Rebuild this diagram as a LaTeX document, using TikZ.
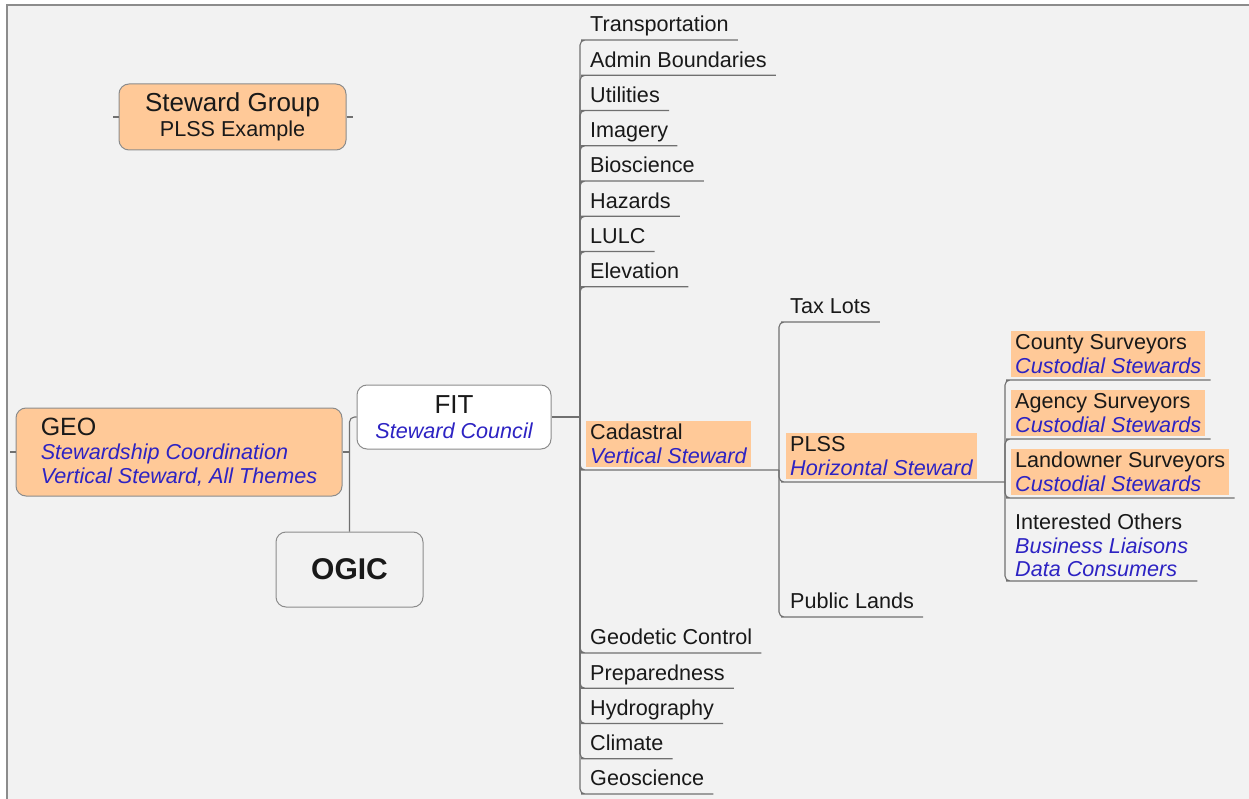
\documentclass[tikz,border=0pt]{standalone}
\usepackage{fontspec}
\setmainfont{Liberation Sans}
\definecolor{bgcol}{RGB}{242,242,242}
\definecolor{peach}{RGB}{255,201,152}
\definecolor{stewblue}{RGB}{45,35,195}
\definecolor{linecol}{RGB}{112,112,112}
\definecolor{boxline}{RGB}{140,140,140}
\definecolor{txtcol}{RGB}{25,25,25}
\newcommand{\role}[1]{{\itshape\color{stewblue}#1}}
\tikzset{
  conn/.style={draw=linecol, line width=1.1pt, rounded corners=5pt},
  topic/.style={anchor=south west, inner xsep=4pt, inner ysep=4pt, align=left, text=txtcol,
    font=\fontsize{21.6}{23.5}\selectfont},
  leaf/.style={topic, text height=16pt, text depth=4pt},
  steward/.style={topic, fill=peach, inner ysep=3.5pt, outer ysep=3pt},
  mainbox/.style={draw=boxline, line width=1pt, rounded corners=10pt, text=txtcol}
}
\begin{document}
\begin{tikzpicture}[x=1pt,y=-1pt]
		\useasboundingbox (0,0) rectangle (1249,799);
		%Hintergrund
		\fill[white] (0,0) rectangle (1249,799);
		\fill[bgcol] (7,5) rectangle (1249,799);
		\draw[boxline, line width=1.5pt] (7,799) -- (7,5) -- (1249,5);
		% Legende
		\node[mainbox, fill=peach, minimum width=227pt, minimum height=66pt, align=center,
			font=\fontsize{21.6}{24.4}\selectfont] (sg) at (232.5,117) {{\fontsize{26}{24.4}\selectfont Steward Group}\\PLSS Example};
		\draw[conn] (sg.west) -- ++(-6,0);
		\draw[conn] (sg.east) -- ++(6,0);
		% linke Seite
		\node[mainbox, fill=peach, minimum width=326pt, minimum height=88pt, align=left,
			font=\fontsize{21.6}{23.8}\selectfont] (geo) at (179,452) {{\fontsize{25}{23.8}\selectfont GEO}\\\role{Stewardship Coordination}\\\role{Vertical Steward, All Themes}};
		\draw[conn] (geo.west) -- ++(-6,0);
		\node[mainbox, fill=white, minimum width=194pt, minimum height=64pt, align=center,
			font=\fontsize{21.6}{24.4}\selectfont] (fit) at (454,417) {{\fontsize{26}{24.4}\selectfont FIT}\\\role{Steward Council}};
		\node[mainbox, fill=bgcol, minimum width=147pt, minimum height=75pt,
			font=\fontsize{30}{32}\selectfont\bfseries] (ogic) at (349.5,569.5) {OGIC};
		\draw[conn] (ogic.north) |- (fit.west);
		\draw[conn] (geo.east) -- (geo.east -| ogic.north);
		% Themen
		\coordinate (fitj) at (580,417);
		\draw[conn] (fit.east) -- (fitj);
		\foreach \nm/\txt [count=\i from 0] in {transp/Transportation, admin/Admin Boundaries,
			util/Utilities, imag/Imagery, biosci/Bioscience, haz/Hazards, lulc/LULC, elev/Elevation} {
			\node[leaf] (\nm) at (586,{40+35.25*\i}) {\txt};
			\draw[conn] (fitj) |- (\nm.south west) -- ([xshift=5pt]\nm.south east);
		}
		\foreach \nm/\txt [count=\i from 0] in {geod/Geodetic Control, prep/Preparedness,
			hydro/Hydrography, clim/Climate, geosci/Geoscience} {
			\node[leaf] (\nm) at (586,{653+35.25*\i}) {\txt};
			\draw[conn] (fitj) |- (\nm.south west) -- ([xshift=5pt]\nm.south east);
		}
		% Cadastral
		\coordinate (cadj) at (779,470);
		\node[steward] (cad) at (586,470) {Cadastral\\\role{Vertical Steward}};
		\draw[conn] (fitj) |- (cad.south west) -- (cadj);
		\node[leaf] (taxlots) at (786,322) {Tax Lots};
		\draw[conn] (cadj) |- (taxlots.south west) -- ([xshift=5pt]taxlots.south east);
		\node[leaf] (publands) at (786,617) {Public Lands};
		\draw[conn] (cadj) |- (publands.south west) -- ([xshift=5pt]publands.south east);
		% PLSS
		\coordinate (plssj) at (1005,482);
		\node[steward] (plss) at (786,482) {PLSS\\\role{Horizontal Steward}};
		\draw[conn] (cadj) |- (plss.south west) -- (plssj);
		\foreach \nm/\txt/\y in {county/County Surveyors/380, agency/Agency Surveyors/439,
			landown/Landowner Surveyors/498} {
			\node[steward] (\nm) at (1011,\y) {\txt\\\role{Custodial Stewards}};
			\draw[conn] (plssj) |- (\nm.south west) -- ([xshift=5pt]\nm.south east);
		}
		\node[topic] (others) at (1011,581) {Interested Others\\\role{Business Liaisons}\\\role{Data Consumers}};
		\draw[conn] (plssj) |- (others.south west) -- ([xshift=5pt]others.south east);
\end{tikzpicture}
\end{document}
